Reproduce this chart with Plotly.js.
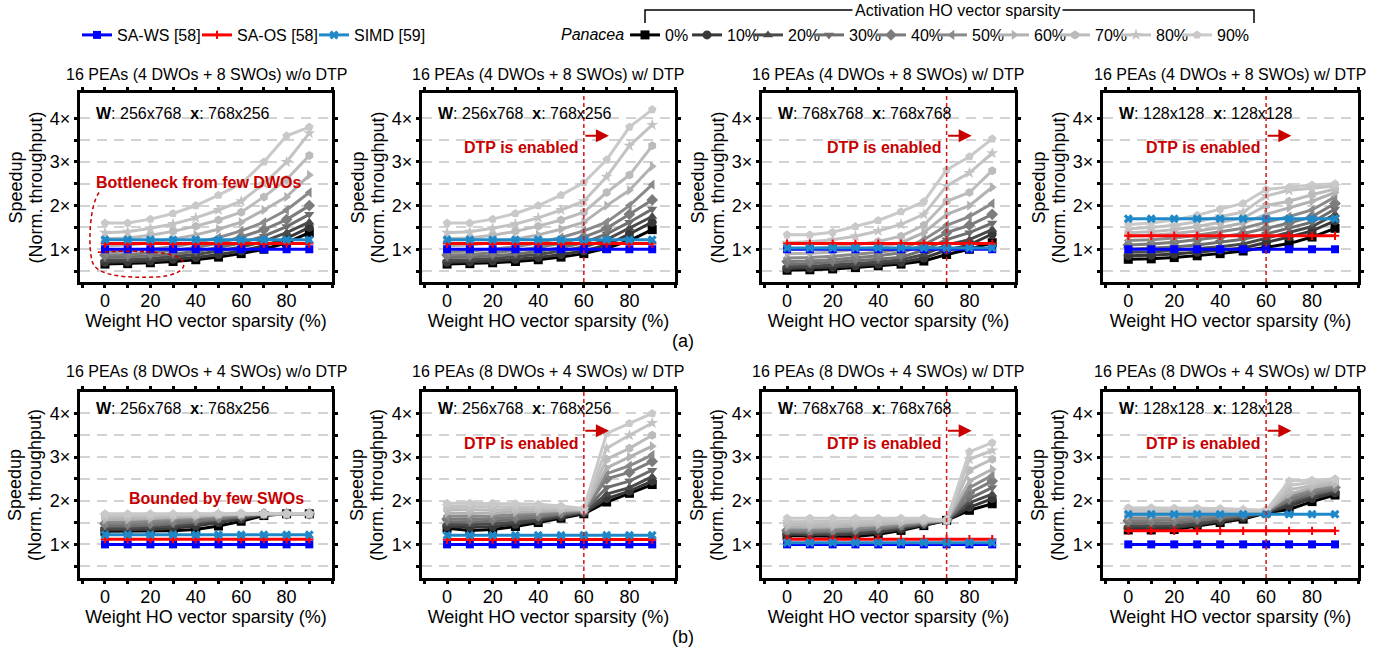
<!DOCTYPE html>
<html><head><meta charset="utf-8">
<script src="https://cdn.plot.ly/plotly-3.0.1.min.js"></script>
<style>html,body{margin:0;padding:0;background:#fff}#chart{width:1385px;height:656px}</style>
</head><body><div id="chart"></div>
<script>
// ---------------- DATA ----------------
const sparsity = [0, 10, 20, 30, 40, 50, 60, 70, 80, 90];
const actLabels = ['0%', '10%', '20%', '30%', '40%', '50%', '60%', '70%', '80%', '90%'];
const baselineNames = ['SA-WS [58]', 'SA-OS [58]', 'SIMD [59]'];
const xTickVals = [-10, 0, 10, 20, 30, 40, 50, 60, 70, 80, 90, 100];
const xTickText = ['', '0', '', '20', '', '40', '', '60', '', '80', '', ''];
const yTickVals = [0.5, 1, 1.5, 2, 2.5, 3, 3.5, 4];
const yTickText = ['', '1×', '', '2×', '', '3×', '', '4×'];
const panelTitles = [
  '16 PEAs (4 DWOs + 8 SWOs) w/o DTP', '16 PEAs (4 DWOs + 8 SWOs) w/ DTP',
  '16 PEAs (4 DWOs + 8 SWOs) w/ DTP', '16 PEAs (4 DWOs + 8 SWOs) w/ DTP',
  '16 PEAs (8 DWOs + 4 SWOs) w/o DTP', '16 PEAs (8 DWOs + 4 SWOs) w/ DTP',
  '16 PEAs (8 DWOs + 4 SWOs) w/ DTP', '16 PEAs (8 DWOs + 4 SWOs) w/ DTP'];
const wDims = ['256x768', '256x768', '768x768', '128x128', '256x768', '256x768', '768x768', '128x128'];
const xDims = ['768x256', '768x256', '768x768', '128x128', '768x256', '768x256', '768x768', '128x128'];
const dtpStart = [null, 60, 70, 60, null, 60, 70, 60];

// Panacea series, rows = activation sparsity 0%..90%
const a1Panacea = [
  [0.66,0.67,0.69,0.72,0.76,0.82,0.90,1.00,1.15,1.38],
  [0.70,0.71,0.73,0.77,0.81,0.88,0.96,1.08,1.25,1.50],
  [0.75,0.76,0.79,0.83,0.88,0.96,1.05,1.18,1.38,1.62],
  [0.81,0.82,0.85,0.89,0.95,1.04,1.15,1.30,1.52,1.80],
  [0.87,0.88,0.92,0.97,1.04,1.14,1.28,1.45,1.68,2.00],
  [0.94,0.96,1.00,1.06,1.15,1.27,1.42,1.62,1.90,2.30],
  [1.08,1.10,1.15,1.23,1.33,1.46,1.62,1.90,2.20,2.70],
  [1.24,1.26,1.32,1.41,1.53,1.67,1.85,2.20,2.60,3.15],
  [1.38,1.40,1.48,1.58,1.72,1.90,2.10,2.50,3.00,3.66],
  [1.60,1.60,1.69,1.82,2.00,2.24,2.50,3.00,3.60,3.80]];
const a2Panacea = [
  [0.66,0.67,0.69,0.72,0.76,0.82,0.90,1.02,1.20,1.45],
  [0.70,0.71,0.73,0.77,0.81,0.88,0.96,1.10,1.35,1.62],
  [0.75,0.76,0.79,0.83,0.88,0.96,1.05,1.22,1.48,1.75],
  [0.81,0.82,0.85,0.89,0.95,1.04,1.15,1.35,1.62,1.92],
  [0.87,0.88,0.92,0.97,1.04,1.14,1.28,1.48,1.80,2.13],
  [0.94,0.96,1.00,1.06,1.15,1.27,1.42,1.62,2.00,2.48],
  [1.08,1.10,1.15,1.23,1.33,1.46,1.62,2.00,2.35,2.90],
  [1.24,1.26,1.32,1.41,1.53,1.67,1.85,2.30,2.70,3.37],
  [1.38,1.40,1.48,1.58,1.72,1.90,2.10,2.66,3.37,3.85],
  [1.60,1.60,1.69,1.82,2.00,2.24,2.53,3.05,3.80,4.20]];
const a3Panacea = [
  [0.52,0.53,0.55,0.58,0.62,0.66,0.73,0.88,1.00,1.15],
  [0.56,0.57,0.59,0.62,0.66,0.70,0.80,0.98,1.10,1.35],
  [0.60,0.61,0.64,0.67,0.71,0.76,0.88,1.10,1.22,1.45],
  [0.66,0.67,0.70,0.73,0.77,0.82,0.98,1.22,1.38,1.60],
  [0.72,0.73,0.76,0.80,0.85,0.92,1.10,1.38,1.55,1.80],
  [0.80,0.81,0.84,0.88,0.93,1.00,1.22,1.55,1.75,2.05],
  [0.90,0.91,0.94,0.99,1.05,1.15,1.38,1.80,2.00,2.42],
  [1.00,1.01,1.05,1.10,1.18,1.30,1.55,2.10,2.30,2.80],
  [1.15,1.17,1.22,1.30,1.42,1.57,1.80,2.45,2.75,3.20],
  [1.33,1.33,1.39,1.52,1.66,1.86,2.09,2.82,3.12,3.53]];
const a4Panacea = [
  [0.77,0.78,0.81,0.85,0.90,0.96,1.05,1.13,1.28,1.48],
  [0.85,0.86,0.89,0.93,0.98,1.03,1.15,1.28,1.42,1.65],
  [0.93,0.94,0.97,1.01,1.06,1.12,1.25,1.38,1.52,1.80],
  [1.00,1.02,1.05,1.10,1.16,1.23,1.35,1.48,1.62,1.92],
  [1.10,1.12,1.16,1.22,1.28,1.36,1.48,1.60,1.75,2.05],
  [1.20,1.22,1.26,1.32,1.40,1.48,1.62,1.75,1.90,2.20],
  [1.30,1.32,1.36,1.42,1.50,1.60,1.80,1.95,2.10,2.30],
  [1.38,1.40,1.45,1.52,1.62,1.72,2.00,2.10,2.25,2.38],
  [1.47,1.50,1.55,1.63,1.75,1.85,2.22,2.35,2.40,2.45],
  [1.57,1.60,1.67,1.78,1.92,2.05,2.37,2.42,2.47,2.50]];
const b1Panacea = [
  [1.30,1.30,1.30,1.31,1.34,1.42,1.53,1.66,1.70,1.70],
  [1.33,1.33,1.34,1.37,1.42,1.50,1.58,1.68,1.70,1.70],
  [1.37,1.37,1.39,1.42,1.47,1.54,1.62,1.69,1.70,1.70],
  [1.42,1.42,1.44,1.47,1.52,1.58,1.64,1.70,1.70,1.70],
  [1.47,1.47,1.49,1.52,1.56,1.61,1.66,1.70,1.70,1.70],
  [1.52,1.52,1.54,1.57,1.60,1.64,1.68,1.70,1.70,1.70],
  [1.57,1.57,1.59,1.61,1.64,1.67,1.69,1.70,1.70,1.70],
  [1.62,1.62,1.63,1.65,1.67,1.69,1.70,1.70,1.70,1.70],
  [1.66,1.66,1.67,1.68,1.69,1.70,1.70,1.70,1.70,1.70],
  [1.70,1.70,1.70,1.70,1.70,1.70,1.70,1.70,1.70,1.70]];
const b2Panacea = [
  [1.37,1.32,1.34,1.41,1.50,1.60,1.70,1.97,2.17,2.37],
  [1.41,1.39,1.41,1.46,1.54,1.63,1.72,2.05,2.22,2.45],
  [1.46,1.45,1.47,1.51,1.58,1.66,1.74,2.15,2.30,2.55],
  [1.52,1.51,1.53,1.57,1.62,1.69,1.76,2.30,2.45,2.70],
  [1.58,1.57,1.59,1.62,1.66,1.72,1.77,2.50,2.65,2.90],
  [1.65,1.64,1.65,1.68,1.71,1.75,1.78,2.62,2.80,3.05],
  [1.72,1.71,1.72,1.74,1.76,1.78,1.79,2.75,3.00,3.25],
  [1.80,1.79,1.79,1.80,1.81,1.81,1.80,2.95,3.20,3.50],
  [1.87,1.86,1.86,1.86,1.85,1.84,1.81,3.20,3.50,3.78],
  [1.94,1.94,1.94,1.93,1.92,1.88,1.82,3.54,3.77,4.00]];
const b3Panacea = [
  [1.20,1.19,1.18,1.18,1.23,1.32,1.43,1.55,1.78,1.93],
  [1.23,1.22,1.22,1.23,1.27,1.35,1.45,1.55,1.85,2.05],
  [1.26,1.25,1.25,1.27,1.31,1.38,1.47,1.55,1.95,2.15],
  [1.29,1.28,1.29,1.31,1.35,1.41,1.49,1.55,2.05,2.30],
  [1.32,1.31,1.32,1.34,1.38,1.44,1.50,1.55,2.18,2.45],
  [1.35,1.34,1.35,1.37,1.41,1.46,1.51,1.55,2.30,2.58],
  [1.40,1.39,1.40,1.42,1.45,1.49,1.53,1.55,2.45,2.72],
  [1.46,1.45,1.46,1.47,1.49,1.52,1.54,1.55,2.70,2.95],
  [1.52,1.52,1.52,1.53,1.54,1.56,1.57,1.55,2.95,3.15],
  [1.60,1.60,1.60,1.60,1.60,1.60,1.60,1.55,3.12,3.33]];
const b4Panacea = [
  [1.33,1.33,1.34,1.42,1.50,1.58,1.72,1.80,1.98,2.13],
  [1.37,1.37,1.38,1.45,1.53,1.61,1.73,1.88,2.05,2.18],
  [1.42,1.42,1.43,1.49,1.56,1.63,1.74,1.95,2.10,2.22],
  [1.48,1.48,1.49,1.54,1.60,1.66,1.75,2.00,2.15,2.26],
  [1.54,1.54,1.55,1.59,1.64,1.69,1.75,2.05,2.20,2.30],
  [1.60,1.60,1.61,1.64,1.68,1.72,1.76,2.10,2.25,2.33],
  [1.66,1.66,1.67,1.69,1.72,1.74,1.76,2.15,2.30,2.38],
  [1.72,1.72,1.72,1.74,1.75,1.76,1.77,2.25,2.35,2.42],
  [1.78,1.78,1.78,1.78,1.78,1.78,1.77,2.35,2.42,2.47],
  [1.84,1.84,1.83,1.83,1.82,1.80,1.78,2.45,2.47,2.50]];

// Baselines (SA-WS, SA-OS, SIMD) per panel
const a1WS = [1,1,1,1,1,1,1,1,1,1];
const a1OS = [1.13,1.13,1.13,1.13,1.13,1.13,1.13,1.13,1.13,1.13];
const a1SIMD = [1.22,1.22,1.22,1.22,1.22,1.22,1.22,1.22,1.22,1.22];
const a2WS = [1,1,1,1,1,1,1,1,1,1];
const a2OS = [1.13,1.13,1.13,1.13,1.13,1.13,1.13,1.13,1.13,1.13];
const a2SIMD = [1.22,1.22,1.22,1.22,1.22,1.22,1.22,1.22,1.22,1.22];
const a3WS = [1,1,1,1,1,1,1,1,1,1];
const a3OS = [1.13,1.13,1.13,1.13,1.13,1.13,1.13,1.13,1.13,1.13];
const a3SIMD = [1.03,1.03,1.03,1.03,1.03,1.03,1.03,1.03,1.03,1.03];
const a4WS = [1,1,1,1,1,1,1,1,1,1];
const a4OS = [1.31,1.31,1.31,1.31,1.31,1.31,1.31,1.31,1.31,1.31];
const a4SIMD = [1.70,1.70,1.70,1.70,1.70,1.70,1.70,1.70,1.70,1.70];
const b1WS = [1,1,1,1,1,1,1,1,1,1];
const b1OS = [1.12,1.12,1.12,1.12,1.12,1.12,1.12,1.12,1.12,1.12];
const b1SIMD = [1.22,1.22,1.22,1.22,1.22,1.22,1.22,1.22,1.22,1.22];
const b2WS = [1,1,1,1,1,1,1,1,1,1];
const b2OS = [1.11,1.11,1.11,1.11,1.11,1.11,1.11,1.11,1.11,1.11];
const b2SIMD = [1.21,1.21,1.21,1.21,1.21,1.21,1.21,1.21,1.21,1.21];
const b3WS = [1,1,1,1,1,1,1,1,1,1];
const b3OS = [1.12,1.12,1.12,1.12,1.12,1.12,1.12,1.12,1.12,1.12];
const b3SIMD = [1.04,1.04,1.04,1.04,1.04,1.04,1.04,1.04,1.04,1.04];
const b4WS = [1,1,1,1,1,1,1,1,1,1];
const b4OS = [1.31,1.31,1.31,1.31,1.31,1.31,1.31,1.31,1.31,1.31];
const b4SIMD = [1.69,1.69,1.69,1.69,1.69,1.69,1.69,1.69,1.69,1.69];

// ---------------- STYLE / LAYOUT ----------------
const FONT = 'Liberation Sans, Arial, Helvetica, sans-serif';
const W = 1385, H = 656;
const px = v => v / W;
const py = v => 1 - v / H;
const grays = ['#000000','#383838','#4a4a4a','#6e6e6e','#7c7c7c','#8a8a8a','#b2b2b2','#bbbbbb','#c3c3c3','#c9c9c9'];
const syms = ['square','circle','triangle-up','triangle-down','diamond','triangle-left','triangle-right','hexagon','star','pentagon'];
const baseColors = ['#0000ff', '#ff0000', '#1e88c8'];
const baseSyms = ['square', 'cross-thin-open', 'x'];
const RED = '#c80000';

const colPx = [[80,332],[422,675],[762,1015],[1103,1358]];
const rowPx = [[93,282],[392,578]];
const rowRange = [[0.25,4.58],[0.23,4.49]];
const titleY = [74, 372];
const legendTextStart = [665, 727, 788, 849, 911, 972, 1034, 1095, 1156, 1217];
const baseLegendTextStart = [117, 237, 354];

const panels = [
  {pan: a1Panacea, base: [a1WS, a1OS, a1SIMD]},
  {pan: a2Panacea, base: [a2WS, a2OS, a2SIMD]},
  {pan: a3Panacea, base: [a3WS, a3OS, a3SIMD]},
  {pan: a4Panacea, base: [a4WS, a4OS, a4SIMD]},
  {pan: b1Panacea, base: [b1WS, b1OS, b1SIMD]},
  {pan: b2Panacea, base: [b2WS, b2OS, b2SIMD]},
  {pan: b3Panacea, base: [b3WS, b3OS, b3SIMD]},
  {pan: b4Panacea, base: [b4WS, b4OS, b4SIMD]}];

const traces = [];
const layout = {
  width: W, height: H, margin: {l: 0, r: 0, t: 0, b: 0},
  paper_bgcolor: '#fff', plot_bgcolor: '#fff',
  font: {family: FONT, color: '#000', size: 16},
  showlegend: true, annotations: [], shapes: []
};

function legendId(n) { return n === 1 ? 'legend' : 'legend' + n; }
function legendBox(textStartPx) {
  return {x: px(textStartPx - 40), xanchor: 'left', y: py(35), yanchor: 'middle',
    orientation: 'h', bgcolor: 'rgba(0,0,0,0)', borderwidth: 0, itemwidth: 30,
    font: {family: FONT, size: 16, color: '#000'}};
}

panels.forEach((p, i) => {
  const row = i < 4 ? 0 : 1, col = i % 4;
  const sfx = i === 0 ? '' : String(i + 1);
  const xa = 'x' + sfx, ya = 'y' + sfx;
  p.pan.forEach((vals, k) => {
    const t = {type: 'scatter', mode: 'lines+markers', x: sparsity, y: vals,
      xaxis: xa, yaxis: ya, name: actLabels[k], hoverinfo: 'skip',
      line: {color: grays[k], width: 3},
      marker: {symbol: syms[k], size: 9, color: grays[k]},
      showlegend: i === 0};
    if (i === 0) t.legend = legendId(k + 1);
    traces.push(t);
  });
  p.base.forEach((vals, k) => {
    const t = {type: 'scatter', mode: 'lines+markers', x: sparsity, y: vals,
      xaxis: xa, yaxis: ya, name: baselineNames[k], hoverinfo: 'skip',
      line: {color: baseColors[k], width: 3},
      marker: {symbol: baseSyms[k], size: k === 1 ? 6 : 8, color: baseColors[k],
        line: {color: baseColors[k], width: k === 1 ? 2 : 0}},
      showlegend: i === 0};
    if (i === 0) t.legend = legendId(11 + k);
    traces.push(t);
  });

  layout['xaxis' + sfx] = {
    domain: [px(colPx[col][0]), px(colPx[col][1])], anchor: ya,
    range: [-11, 100], tickmode: 'array', tickvals: xTickVals, ticktext: xTickText,
    showline: true, linewidth: 3, linecolor: '#000', mirror: 'allticks',
    ticks: 'outside', ticklen: 3, tickwidth: 3, tickcolor: '#000',
    ticklabelstandoff: -3,
    showgrid: false, zeroline: false, fixedrange: true,
    tickfont: {family: FONT, size: 18, color: '#000'},
    title: {text: 'Weight HO vector sparsity (%)', font: {family: FONT, size: 18, color: '#000'}, standoff: 0}
  };
  layout['yaxis' + sfx] = {
    domain: [py(rowPx[row][1]), py(rowPx[row][0])], anchor: xa,
    range: rowRange[row], tickmode: 'array', tickvals: yTickVals, ticktext: yTickText,
    showline: true, linewidth: 3, linecolor: '#000', mirror: 'allticks',
    ticks: 'outside', ticklen: 3, tickwidth: 3, tickcolor: '#000',
    showgrid: true, gridcolor: '#d2d2d2', gridwidth: 2, griddash: '10px,7px',
    zeroline: false, fixedrange: true,
    tickfont: {family: FONT, size: 18, color: '#000'}
  };

  // y axis title (two lines, placed precisely)
  const midY = py((rowPx[row][0] + rowPx[row][1]) / 2);
  layout.annotations.push({xref: 'paper', yref: 'paper', x: px(colPx[col][0] - 65), y: midY,
    xanchor: 'center', yanchor: 'middle', textangle: -90, showarrow: false,
    text: 'Speedup', font: {family: FONT, size: 18, color: '#000'}});
  layout.annotations.push({xref: 'paper', yref: 'paper', x: px(colPx[col][0] - 45), y: midY,
    xanchor: 'center', yanchor: 'middle', textangle: -90, showarrow: false,
    text: '(Norm. throughput)', font: {family: FONT, size: 18, color: '#000'}});

  // panel title
  layout.annotations.push({xref: 'paper', yref: 'paper',
    x: px((colPx[col][0] + colPx[col][1]) / 2), y: py(titleY[row]),
    xanchor: 'center', yanchor: 'middle', showarrow: false,
    text: panelTitles[i], font: {family: FONT, size: 16, color: '#000'}});
  // matrix dims
  layout.annotations.push({xref: xa, yref: ya, x: -5, y: 4.12, xanchor: 'left', yanchor: 'middle',
    showarrow: false, text: '<b>W</b>: ' + wDims[i] + '  <b>x</b>: ' + xDims[i],
    font: {family: FONT, size: 16, color: '#000'}});
  // DTP marker
  const d = dtpStart[i];
  if (d !== null) {
    layout.shapes.push({type: 'line', xref: xa, yref: ya + ' domain', x0: d, x1: d, y0: 0, y1: 1,
      line: {color: '#d01818', width: 1.5, dash: '4px,3px'}});
    layout.annotations.push({xref: xa, yref: ya, x: d, y: 3.32, xanchor: 'right', yanchor: 'middle',
      xshift: -4, showarrow: false, text: '<b>DTP is enabled</b>',
      font: {family: FONT, size: 16, color: RED}});
    layout.annotations.push({xref: xa, yref: ya, x: d + 11, y: 3.6, ax: d, ay: 3.6,
      axref: xa, ayref: ya, showarrow: true, arrowhead: 2, arrowsize: 1.3, arrowwidth: 2,
      arrowcolor: RED, text: ''});
  }
});

// panel-specific callouts
layout.annotations.push({xref: 'x', yref: 'y', x: -5, y: 2.52, xanchor: 'left', yanchor: 'middle',
  showarrow: false, text: '<b>Bottleneck from few DWOs</b>', font: {family: FONT, size: 16, color: RED}});
layout.shapes.push({type: 'path', xref: 'x', yref: 'y',
  path: 'M -2.6,2.3 C -7,2.0 -7.5,1.0 -5.5,0.7 C -3.5,0.38 10,0.33 24,0.37 C 34,0.42 37,0.62 33,0.8 C 28,0.96 10,0.98 -4,0.93',
  line: {color: RED, width: 1.5, dash: '4px,3px'}});
layout.annotations.push({xref: 'x5', yref: 'y5', x: 9.7, y: 2.06, xanchor: 'left', yanchor: 'middle',
  showarrow: false, text: '<b>Bounded by few SWOs</b>', font: {family: FONT, size: 16, color: RED}});

// figure labels
layout.annotations.push({xref: 'paper', yref: 'paper', x: px(683), y: py(341), xanchor: 'center', yanchor: 'middle',
  showarrow: false, text: '(a)', font: {family: FONT, size: 18, color: '#000'}});
layout.annotations.push({xref: 'paper', yref: 'paper', x: px(683), y: py(637), xanchor: 'center', yanchor: 'middle',
  showarrow: false, text: '(b)', font: {family: FONT, size: 18, color: '#000'}});

// legends
actLabels.forEach((_, k) => { layout[legendId(k + 1)] = legendBox(legendTextStart[k]); });
baselineNames.forEach((_, k) => { layout[legendId(11 + k)] = legendBox(baseLegendTextStart[k]); });
layout.annotations.push({xref: 'paper', yref: 'paper', x: px(626), y: py(35), xanchor: 'right', yanchor: 'middle',
  showarrow: false, text: '<i>Panacea</i>', font: {family: FONT, size: 16, color: '#000'}});
layout.shapes.push({type: 'path', xref: 'paper', yref: 'paper',
  path: `M ${px(645)},${py(23)} L ${px(645)},${py(10)} L ${px(1254)},${py(10)} L ${px(1254)},${py(23)}`,
  line: {color: '#000', width: 1.5}});
layout.annotations.push({xref: 'paper', yref: 'paper', x: px(957), y: py(11), xanchor: 'center', yanchor: 'middle',
  showarrow: false, text: 'Activation HO vector sparsity', bgcolor: '#ffffff', borderpad: 2,
  font: {family: FONT, size: 16, color: '#000'}});

Plotly.newPlot('chart', traces, layout, {staticPlot: true, displayModeBar: false});
</script></body></html>
